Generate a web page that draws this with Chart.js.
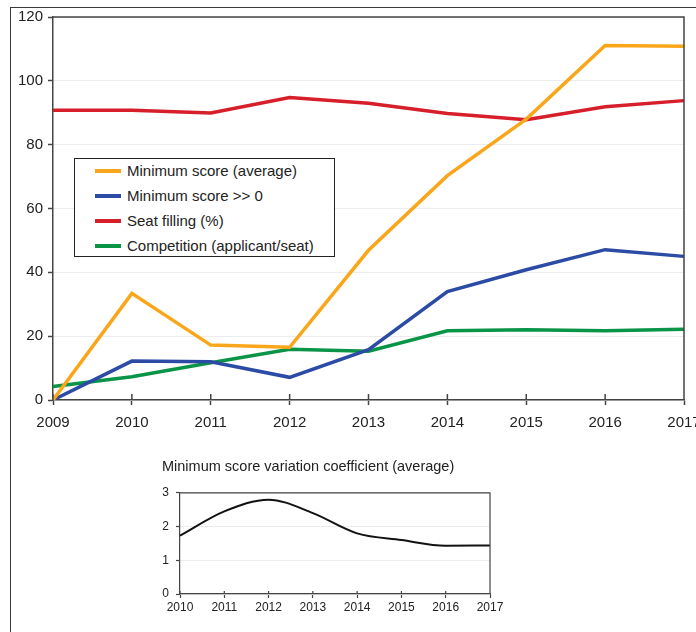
<!DOCTYPE html>
<html>
<head>
<meta charset="utf-8">
<script src="https://cdn.jsdelivr.net/npm/chart.js@4.4.1/dist/chart.umd.min.js"></script>
<style>
    body { margin: 0; width: 696px; height: 632px; overflow: hidden; background: #fff; font-family: "Liberation Sans", Arial, sans-serif; position: relative; }
    #frame { position: absolute; left: 10px; top: 7px; width: 800px; height: 700px; border-left: 1.5px solid #3a3a3a; border-top: 1.5px solid #3a3a3a; }
    #mainWrap { position: absolute; left: 0; top: 0; width: 720px; height: 440px; }
    #insetWrap { position: absolute; left: 150px; top: 450px; width: 370px; height: 175px; }
    #legendBox { position: absolute; left: 74px; top: 158px; width: 261px; height: 99px; box-sizing: border-box; border: 1.5px solid #222; background: #fff; }
    .legendRow { position: absolute; left: 0; height: 20px; font-size: 15px; color: #222; white-space: nowrap; }
    .legendRow span.swatch { position: absolute; left: 20px; top: 8px; width: 26px; height: 3.5px; }
    .legendRow span.text { position: absolute; left: 52px; top: 1px; }
</style>
</head>
<body>
<div id="frame"></div>
<div id="mainWrap"><canvas id="mainChart" width="720" height="440"></canvas></div>
<div id="legendBox"></div>
<div id="insetWrap"><canvas id="insetChart" width="370" height="175"></canvas></div>

<script>
// Main chart data
const years = ['2009', '2010', '2011', '2012', '2013', '2014', '2015', '2016', '2017'];
const minScoreAvg = [0, 33.4, 17.2, 16.5, 46.9, 70.3, 88, 111.1, 110.8];
const minScorePositive = [0, 12.2, 12, 7.1, 15.8, 34, 40.8, 47.1, 45];
const seatFilling = [90.8, 90.8, 89.9, 94.8, 93, 89.8, 87.8, 91.9, 93.8];
const competition = [4.2, 7.3, 11.7, 15.9, 15.3, 21.7, 22, 21.7, 22.2];
const seriesLabels = ['Minimum score (average)', 'Minimum score >> 0', 'Seat filling (%)', 'Competition (applicant/seat)'];
const seriesColors = ['#FAA61A', '#2B4BA5', '#D71F2B', '#0A9447'];
const yTicks = [0, 20, 40, 60, 80, 100, 120];

// Inset chart data
const insetYears = ['2010', '2011', '2012', '2013', '2014', '2015', '2016', '2017'];
const variationCoef = [1.73, 2.45, 2.8, 2.4, 1.8, 1.6, 1.43, 1.44];
const insetTitle = 'Minimum score variation coefficient (average)';

const textColor = '#222';
const axisColor = '#444';

// draws top and right edges so the plot area is boxed,
// plus the small part of each x tick that pokes up into the plot
const boxPlugin = {
    id: 'boxPlugin',
    afterDraw(chart) {
        const a = chart.chartArea;
        const ctx = chart.ctx;
        const w = chart.options.boxWidth || 1.5;
        const inner = chart.options.innerTick || 5;
        ctx.save();
        ctx.strokeStyle = axisColor;
        ctx.lineWidth = w;
        ctx.beginPath();
        ctx.moveTo(a.left, a.top);
        ctx.lineTo(a.right, a.top);
        ctx.lineTo(a.right, a.bottom);
        const xs = chart.scales.x;
        xs.ticks.forEach((t, i) => {
            const px = xs.getPixelForTick(i);
            ctx.moveTo(px, a.bottom);
            ctx.lineTo(px, a.bottom - inner);
        });
        ctx.stroke();
        ctx.restore();
    }
};

const allSeries = [minScoreAvg, minScorePositive, seatFilling, competition];

const mainData = {
    labels: years,
    datasets: allSeries.map((values, i) => ({
        label: seriesLabels[i],
        data: values,
        borderColor: seriesColors[i],
        borderWidth: 3.5,
        pointRadius: 0,
        fill: false,
        tension: 0
    }))
};

new Chart(document.getElementById('mainChart').getContext('2d'), {
    type: 'line',
    data: mainData,
    options: {
        responsive: false,
        animation: false,
        innerTick: 6,
        layout: { padding: { left: 0, top: 17, right: 36, bottom: 0 } },
        plugins: { legend: { display: false }, tooltip: { enabled: false } },
        scales: {
            x: {
                grid: { drawOnChartArea: false, tickLength: 5, tickColor: axisColor, tickWidth: 1.5 },
                border: { color: axisColor, width: 1.5 },
                ticks: { color: textColor, font: { size: 15, family: 'Liberation Sans' }, padding: 9, maxRotation: 0, autoSkip: false },
                afterFit: function (scale) { scale.height = 40; }
            },
            y: {
                min: 0,
                max: 120,
                afterBuildTicks: function (scale) { scale.ticks = yTicks.map(v => ({ value: v })); },
                grid: { color: '#ececec', lineWidth: 1, tickLength: 5, tickColor: axisColor, tickWidth: 1.5 },
                border: { color: axisColor, width: 1.5 },
                ticks: { color: textColor, font: { size: 15, family: 'Liberation Sans' }, padding: 5 },
                afterFit: function (scale) { scale.width = 53; }
            }
        }
    },
    plugins: [boxPlugin]
});

// Legend inside the plot
const legendBox = document.getElementById('legendBox');
seriesLabels.forEach((label, i) => {
    const row = document.createElement('div');
    row.className = 'legendRow';
    row.style.top = (2 + i * 25) + 'px';
    row.innerHTML = '<span class="swatch" style="background:' + seriesColors[i] + '"></span><span class="text"></span>';
    row.querySelector('.text').textContent = label;
    legendBox.appendChild(row);
});

// Inset chart
new Chart(document.getElementById('insetChart').getContext('2d'), {
    type: 'line',
    data: {
        labels: insetYears,
        datasets: [{
            label: insetTitle,
            data: variationCoef,
            borderColor: '#111',
            borderWidth: 2,
            pointRadius: 0,
            fill: false,
            cubicInterpolationMode: 'monotone'
        }]
    },
    options: {
        responsive: false,
        animation: false,
        boxWidth: 1.2,
        innerTick: 3,
        layout: { padding: { left: 12, top: 0, right: 30, bottom: 0 } },
        plugins: {
            legend: { display: false },
            tooltip: { enabled: false },
            title: {
                display: true,
                text: insetTitle,
                align: 'start',
                color: textColor,
                font: { size: 14.5, weight: 'normal', family: 'Liberation Sans' },
                padding: { top: 8, bottom: 17.5 }
            }
        },
        scales: {
            x: {
                grid: { drawOnChartArea: false, tickLength: 4, tickColor: axisColor, tickWidth: 1.2 },
                border: { color: axisColor, width: 1.2 },
                ticks: { color: textColor, font: { size: 12, family: 'Liberation Sans' }, padding: 2, maxRotation: 0, autoSkip: false },
                afterFit: function (scale) { scale.height = 31; }
            },
            y: {
                min: 0,
                max: 3,
                ticks: { stepSize: 1, color: textColor, font: { size: 12, family: 'Liberation Sans' }, padding: 7 },
                grid: { color: '#ececec', tickLength: 4, tickColor: axisColor, tickWidth: 1.2 },
                border: { color: axisColor, width: 1.2 },
                afterFit: function (scale) { scale.width = 18; }
            }
        }
    },
    plugins: [boxPlugin]
});
</script>
</body>
</html>
